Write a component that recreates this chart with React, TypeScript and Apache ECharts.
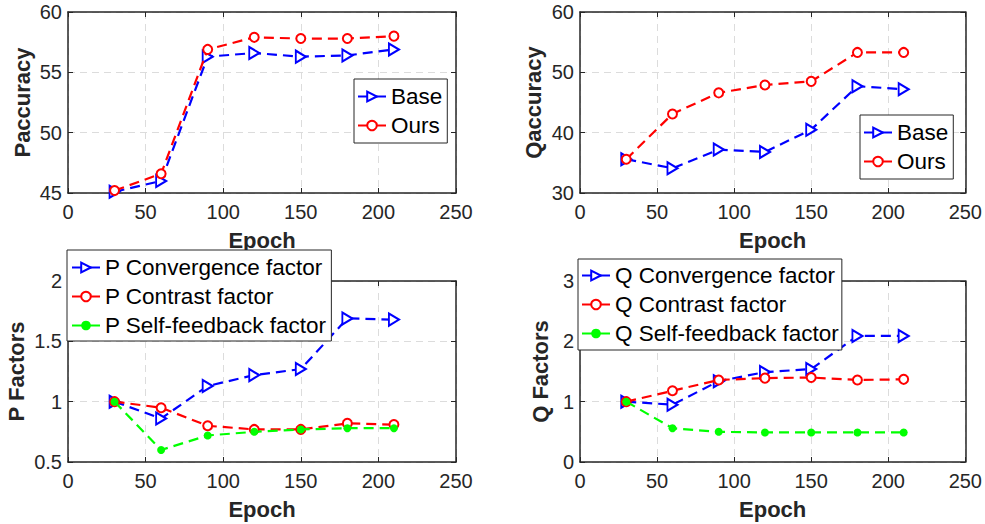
import React, { useEffect, useRef } from "react";
import * as echarts from "echarts";

const epochs = [30, 60, 90, 120, 150, 180, 210];
const xTicks = { min: 0, max: 250, interval: 50 };

const pAccBase = [45.1, 46.0, 56.3, 56.6, 56.3, 56.4, 56.9];
const pAccOurs = [45.2, 46.6, 56.9, 57.9, 57.8, 57.8, 58.0];
const qAccBase = [35.6, 34.1, 37.2, 36.8, 40.5, 47.7, 47.2];
const qAccOurs = [35.6, 43.1, 46.6, 47.9, 48.5, 53.3, 53.3];

const pConv = [1.0, 0.86, 1.13, 1.22, 1.27, 1.69, 1.68];
const pContrast = [1.0, 0.95, 0.8, 0.77, 0.77, 0.82, 0.81];
const pSelf = [1.0, 0.6, 0.72, 0.75, 0.77, 0.78, 0.78];

const qConv = [1.0, 0.95, 1.34, 1.49, 1.54, 2.09, 2.09];
const qContrast = [1.0, 1.18, 1.36, 1.39, 1.4, 1.36, 1.37];
const qSelf = [1.0, 0.56, 0.5, 0.49, 0.49, 0.49, 0.49];

const yRanges = [
  { min: 45, max: 60, interval: 5, name: "Paccuracy", gap: 35 },
  { min: 30, max: 60, interval: 10, name: "Qaccuracy", gap: 36 },
  { min: 0.5, max: 2, interval: 0.5, name: "P Factors", gap: 41 },
  { min: 0, max: 3, interval: 1, name: "Q Factors", gap: 29 },
];

const FONT = "'Liberation Sans', Arial, Helvetica, sans-serif";
const AX = "#262626";
const BLUE = "#0000ff";
const RED = "#ff0000";
const GREEN = "#00ff00";

const grids = [
  { left: 68, top: 12, width: 388, height: 181 },
  { left: 580, top: 12, width: 390, height: 181 },
  { left: 68, top: 281, width: 388, height: 181 },
  { left: 580, top: 281, width: 390, height: 181 },
];

const pairs = (ys: number[]) => epochs.map((x, i) => [x, ys[i]]);

function mkSeries(name: string, ys: number[], idx: number, kind: "tri" | "circ" | "dot") {
  const color = kind === "tri" ? BLUE : kind === "circ" ? RED : GREEN;
  const s: any = {
    type: "line",
    name,
    xAxisIndex: idx,
    yAxisIndex: idx,
    data: pairs(ys),
    lineStyle: { color, width: 2.2, type: [10, 6] },
    itemStyle: { color, borderWidth: 2 },
    emphasis: { disabled: true },
    z: kind === "tri" ? 3 : kind === "circ" ? 4 : 5,
  };
  if (kind === "tri") {
    s.symbol = "emptyTriangle";
    s.symbolRotate = -90;
    s.symbolSize = [12, 10];
  } else if (kind === "circ") {
    s.symbol = "emptyCircle";
    s.symbolSize = 9;
  } else {
    s.symbol = "circle";
    s.symbolSize = 8;
  }
  return s;
}

function mkLegend(names: string[], left: number, top: number, padding: number[]) {
  return {
    orient: "vertical",
    left,
    top,
    data: names,
    itemWidth: 28,
    itemHeight: 12,
    itemGap: 6,
    padding,
    selectedMode: false,
    backgroundColor: "#ffffff",
    borderColor: AX,
    borderWidth: 1,
    borderRadius: 0,
    lineStyle: { type: "solid" },
    textStyle: { fontFamily: FONT, fontSize: 22.5, color: "#000", lineHeight: 22 },
    z: 10,
  };
}

export default function App() {
  const ref = useRef<HTMLDivElement>(null);
  useEffect(() => {
    if (!ref.current) return;
    const chart = echarts.init(ref.current, undefined, { renderer: "svg" });
    const xAxes: any[] = [];
    const yAxes: any[] = [];
    grids.forEach((_, i) => {
      xAxes.push({
        type: "value",
        gridIndex: i,
        ...xTicks,
        name: "Epoch",
        nameLocation: "middle",
        nameGap: 36,
        nameTextStyle: { fontFamily: FONT, fontSize: 22, fontWeight: "bold", color: AX },
        axisLine: { show: true, onZero: false, lineStyle: { color: AX, width: 1.5 } },
        axisTick: { show: true, inside: true, length: 5, lineStyle: { color: AX } },
        axisLabel: { fontFamily: FONT, fontSize: 20, color: AX, margin: 9 },
        splitLine: { show: true, lineStyle: { color: "#dcdcdc", width: 1, type: [7, 5] } },
      });
      const yr = yRanges[i];
      yAxes.push({
        type: "value",
        gridIndex: i,
        min: yr.min,
        max: yr.max,
        interval: yr.interval,
        name: yr.name,
        nameLocation: "middle",
        nameGap: yr.gap,
        nameTextStyle: { fontFamily: FONT, fontSize: 22, fontWeight: "bold", color: AX },
        axisLine: { show: true, onZero: false, lineStyle: { color: AX, width: 1.5 } },
        axisTick: { show: true, inside: true, length: 5, lineStyle: { color: AX } },
        axisLabel: { fontFamily: FONT, fontSize: 20, color: AX, margin: 6 },
        splitLine: { show: true, lineStyle: { color: "#dcdcdc", width: 1, type: [7, 5] } },
      });
    });
    // mirrored box axes (top & right)
    grids.forEach((_, i) => {
      xAxes.push({
        type: "value",
        gridIndex: i,
        position: "top",
        ...xTicks,
        axisLine: { show: true, onZero: false, lineStyle: { color: AX, width: 1.5 } },
        axisTick: { show: true, inside: true, length: 5, lineStyle: { color: AX } },
        axisLabel: { show: false },
        splitLine: { show: false },
      });
      const yr = yRanges[i];
      yAxes.push({
        type: "value",
        gridIndex: i,
        position: "right",
        min: yr.min,
        max: yr.max,
        interval: yr.interval,
        axisLine: { show: true, onZero: false, lineStyle: { color: AX, width: 1.5 } },
        axisTick: { show: true, inside: true, length: 5, lineStyle: { color: AX } },
        axisLabel: { show: false },
        splitLine: { show: false },
      });
    });

    const series = [
      mkSeries("Base", pAccBase, 0, "tri"),
      mkSeries("Ours", pAccOurs, 0, "circ"),
      mkSeries("Base", qAccBase, 1, "tri"),
      mkSeries("Ours", qAccOurs, 1, "circ"),
      mkSeries("P Convergence factor", pConv, 2, "tri"),
      mkSeries("P Contrast factor", pContrast, 2, "circ"),
      mkSeries("P Self-feedback factor", pSelf, 2, "dot"),
      mkSeries("Q Convergence factor", qConv, 3, "tri"),
      mkSeries("Q Contrast factor", qContrast, 3, "circ"),
      mkSeries("Q Self-feedback factor", qSelf, 3, "dot"),
    ];

    chart.setOption({
      animation: false,
      backgroundColor: "#ffffff",
      grid: grids.map((g) => ({ ...g, containLabel: false })),
      xAxis: xAxes,
      yAxis: yAxes,
      legend: [
        mkLegend(["Base", "Ours"], 354, 79, [6, 5, 6, 3]),
        mkLegend(["Base", "Ours"], 860, 115, [6, 5, 6, 3]),
        mkLegend(["P Convergence factor", "P Contrast factor", "P Self-feedback factor"], 67, 250, [6, 5, 4, 4]),
        mkLegend(["Q Convergence factor", "Q Contrast factor", "Q Self-feedback factor"], 578, 259, [5, 3, 5, 3]),
      ],
      series,
    });
    return () => chart.dispose();
  }, []);
  return (
    <div
      ref={ref}
      style={{ position: "fixed", left: 0, top: 0, width: 985, height: 524, background: "#fff" }}
    />
  );
}
